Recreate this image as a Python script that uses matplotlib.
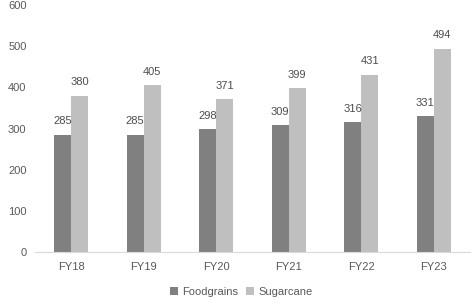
import matplotlib
matplotlib.use("Agg")
from matplotlib import pyplot as plt
import numpy as np

years = ['FY18', 'FY19', 'FY20', 'FY21', 'FY22', 'FY23']
foodgrains = [285, 285, 298, 309, 316, 331]
sugarcane = [380, 405, 371, 399, 431, 494]

plt.rcParams['font.family'] = ['Liberation Sans', 'DejaVu Sans']
txt = '#595959'

fig = plt.figure(figsize=(4.71, 3.03), dpi=100)
ax = fig.add_axes([0.074, 0.168, 0.924, 0.815])

x = np.arange(len(years))
w = 0.235
b1 = ax.bar(x - w / 2, foodgrains, w, color='#808080', label='Foodgrains')
b2 = ax.bar(x + w / 2, sugarcane, w, color='#bfbfbf', label='Sugarcane')

for bars, vals in [(b1, foodgrains), (b2, sugarcane)]:
    for r, v in zip(bars, vals):
        ax.annotate(str(v), (r.get_x() + r.get_width() / 2, v),
                    xytext=(0, 6), textcoords='offset points',
                    ha='center', va='bottom', fontsize=8, color='#4d4d4d')

ax.set_xlim(-0.5, 5.5)
ax.set_ylim(0, 600)
ax.set_yticks(range(0, 601, 100))
ax.set_xticks(x)
ax.set_xticklabels(years)
ax.tick_params(length=0, labelsize=8, colors=txt)
ax.tick_params(axis='x', pad=7)
ax.tick_params(axis='y', pad=6)
for s in ['top', 'right', 'left']:
    ax.spines[s].set_visible(False)
ax.spines['bottom'].set_color('#d9d9d9')

ax.legend(loc='upper center', bbox_to_anchor=(0.475, -0.1), ncol=2, frameon=False,
          fontsize=8, handlelength=0.7, handleheight=0.7, handletextpad=0.4,
          columnspacing=0.7, labelcolor=txt)

fig.savefig('out.png', dpi=100)
